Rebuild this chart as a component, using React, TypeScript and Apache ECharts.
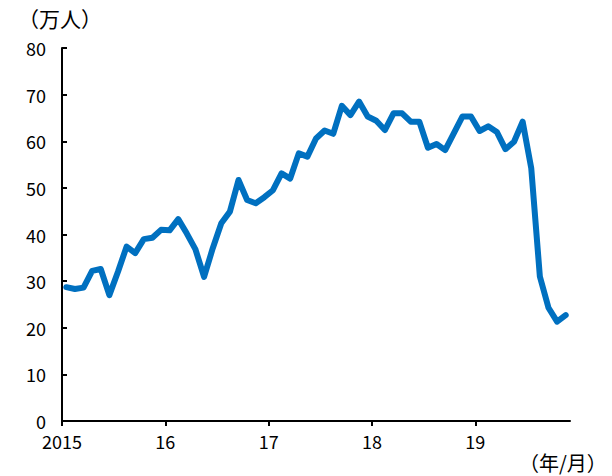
import React, { useEffect, useRef } from "react";
import * as echarts from "echarts";

// Monthly values, Jan 2015 – Nov 2019 (unit: 万人)
const yearTickMonths = [0, 12, 24, 36, 48];
const yearLabels = ["2015", "16", "17", "18", "19"];

const visitors = [
  28.7, 28.3, 28.6, 32.2, 32.6, 27.0, 32.0, 37.4, 36.0, 39.0, 39.3, 41.0,
  40.9, 43.3, 40.2, 36.8, 30.9, 37.0, 42.4, 44.9, 51.7, 47.4, 46.7, 48.0,
  49.5, 53.1, 52.0, 57.4, 56.7, 60.6, 62.3, 61.6, 67.6, 65.6, 68.5, 65.3,
  64.4, 62.4, 66.0, 66.0, 64.2, 64.2, 58.6, 59.4, 58.1, 61.7, 65.3, 65.3,
  62.2, 63.2, 62.0, 58.3, 59.9, 64.2, 54.2, 31.0, 24.3, 21.3, 22.7,
];

const yTicks = { min: 0, max: 80, interval: 10 };
const FONT = "'Noto Sans CJK JP', sans-serif";

export default function App() {
  const ref = useRef<HTMLDivElement>(null);
  useEffect(() => {
    if (!ref.current) return;
    const chart = echarts.init(ref.current, undefined, { renderer: "svg" });
    // each month occupies one unit; points sit at the middle of their month
    const points = visitors.map((v, i) => [i + 0.5, v]);
    chart.setOption({
      animation: false,
      backgroundColor: "#ffffff",
      grid: { left: 62, right: 42, top: 48, bottom: 55, containLabel: false },
      graphic: [
        {
          type: "text",
          left: 18,
          top: 7,
          style: { text: "（万人）", font: `21px ${FONT}`, fill: "#000" },
        },
        {
          type: "text",
          left: 519,
          top: 452,
          style: { text: "（年/月）", font: `20px ${FONT}`, fill: "#000" },
        },
      ],
      xAxis: {
        type: "value",
        min: 0,
        max: visitors.length,
        axisLine: { show: true, onZero: false, lineStyle: { color: "#000", width: 2 } },
        axisTick: {
          show: true,
          length: 5,
          customValues: yearTickMonths,
          lineStyle: { color: "#000", width: 2 },
        },
        axisLabel: {
          customValues: yearTickMonths,
          formatter: (v: number) => yearLabels[yearTickMonths.indexOf(v)] ?? "",
          color: "#000",
          fontSize: 18,
          fontFamily: FONT,
          margin: 11,
        },
        splitLine: { show: false },
      },
      yAxis: {
        type: "value",
        min: yTicks.min,
        max: yTicks.max,
        interval: yTicks.interval,
        axisLine: { show: true, lineStyle: { color: "#000", width: 2 } },
        axisTick: {
          show: true,
          inside: true,
          length: 5,
          lineStyle: { color: "#000", width: 2 },
        },
        axisLabel: {
          color: "#000",
          fontSize: 18,
          fontFamily: FONT,
          margin: 16,
        },
        splitLine: { show: false },
      },
      series: [
        {
          type: "line",
          data: points,
          showSymbol: false,
          symbol: "none",
          lineStyle: { color: "#0070C0", width: 6, join: "round", cap: "round" },
        },
      ],
    });
    return () => chart.dispose();
  }, []);
  return (
    <div
      ref={ref}
      style={{ position: "fixed", left: 0, top: 0, width: 612, height: 476 }}
    />
  );
}
